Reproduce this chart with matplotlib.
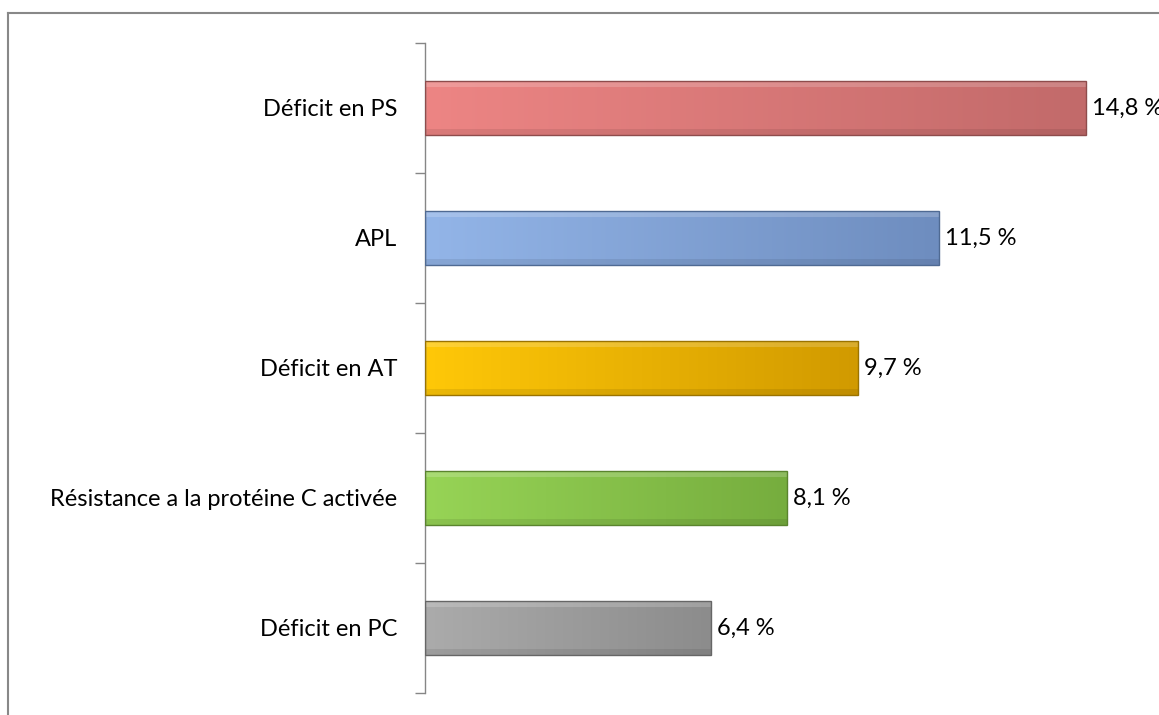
import numpy as np
import matplotlib
matplotlib.use("Agg")
import matplotlib.pyplot as plt
from matplotlib.colors import LinearSegmentedColormap
from matplotlib.patches import Rectangle

categories = ["Déficit en PS", "APL", "Déficit en AT",
              "Résistance a la protéine C activée", "Déficit en PC"]
values = [14.8, 11.5, 9.7, 8.1, 6.4]
labels = ["14,8 %", "11,5 %", "9,7 %", "8,1 %", "6,4 %"]
# light (left) -> dark (right) for each bar
colors = [("#ED8584", "#C26A6A"), ("#93B5E8", "#6E8DBF"),
          ("#FFC808", "#D19A00"), ("#97D456", "#76AD3E"),
          ("#ABABAB", "#8C8C8C")]
edges = ["#8E4C4C", "#4F6A93", "#9A7300", "#5A842E", "#666666"]

plt.rcParams['font.family'] = ['Lato', 'DejaVu Sans']

fig = plt.figure(figsize=(11.59, 7.15), dpi=100)
W, H = 1159, 715
ax = fig.add_axes([425 / W, 22 / H, (W - 425) / W, 650 / H])

scale = 44.66  # px per unit
ax.set_xlim(0, (W - 425) / scale)
ax.set_ylim(len(categories) - 0.5, -0.5)

fs = 17
bh = 0.41
ypos = np.arange(len(categories))
bars = ax.barh(ypos, values, height=bh, color="none", edgecolor="none")
for b, (c1, c2), ec in zip(bars, colors, edges):
    cmap = LinearSegmentedColormap.from_list("g", [c1, c2])
    x0, y0 = b.get_x(), b.get_y()
    w, h = b.get_width(), b.get_height()
    grad = np.linspace(0, 1, 256).reshape(1, -1)
    im = ax.imshow(grad, cmap=cmap, aspect="auto",
                   extent=(x0, x0 + w, y0 + h, y0), zorder=2)
    im.set_clip_path(b)
    # top highlight and bottom shade (bevel look)
    ax.add_patch(Rectangle((x0, y0), w, h * 0.10, color="white",
                           alpha=0.18, lw=0, zorder=3))
    ax.add_patch(Rectangle((x0, y0 + h * 0.90), w, h * 0.10, color="black",
                           alpha=0.08, lw=0, zorder=3))
    ax.add_patch(Rectangle((x0, y0), w, h, fill=False, edgecolor=ec,
                           lw=1.0, zorder=4))

for y, v, t in zip(ypos, values, labels):
    ax.text(v + 6 / scale, y, t, va="center", ha="left", fontsize=fs,
            color="black", clip_on=False)

ax.set_yticks(ypos)
ax.set_yticklabels(categories, fontsize=fs)
ax.set_yticks(np.arange(-0.5, len(categories)), minor=True)
ax.tick_params(axis="y", which="major", length=0, pad=20)
ax.tick_params(axis="y", which="minor", length=7, width=1, color="#868686")
ax.set_xticks([])
for s in ["top", "right", "bottom"]:
    ax.spines[s].set_visible(False)
ax.spines["left"].set_color("#868686")
ax.spines["left"].set_linewidth(1)

# outer chart frame (clipped by image edge)
fig.add_artist(plt.Line2D([8 / W, 1], [1 - 13 / H, 1 - 13 / H],
                          transform=fig.transFigure, color="#888888", lw=1.5))
fig.add_artist(plt.Line2D([8 / W, 8 / W], [0, 1 - 13 / H],
                          transform=fig.transFigure, color="#888888", lw=1.5))

fig.savefig("out.png", dpi=100)
